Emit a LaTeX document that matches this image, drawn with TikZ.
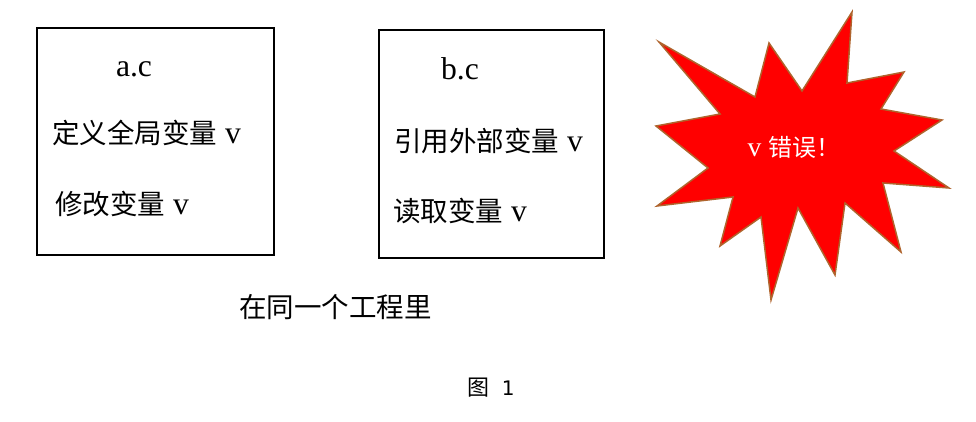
\documentclass[tikz,border=0pt]{standalone}
\usepackage{fontspec}
\setmainfont[Scale=1.15]{Liberation Serif}
\setsansfont{DejaVu Sans}
\newfontfamily\cjk{Noto Sans CJK SC}
\begin{document}
\begin{tikzpicture}[x=1pt,y=-1pt,
  filebox/.style={draw=black,line width=2.2pt},
  txt/.style={inner sep=0pt,anchor=west,font=\fontsize{27.5}{30}\selectfont},
  startxt/.style={inner sep=0pt,text=white,font=\fontsize{24}{27}\selectfont}]
\useasboundingbox (0,0) rectangle (976,422);
% boxes
\draw[filebox] (37,28) rectangle (274,255);
\draw[filebox] (379,30) rectangle (604,258);
\node[txt,anchor=center] (ac) at (134,69) {a.c};
\node[txt] (a1) at (52,133) {{\cjk 定义全局变量} v};
\node[txt] (a2) at (55,204) {{\cjk 修改变量} v};
\node[txt,anchor=center] (bc) at (460,69) {b.c};
\node[txt] (b1) at (394,141) {{\cjk 引用外部变量} v};
\node[txt] (b2) at (393,211) {{\cjk 读取变量} v};
\node[txt] (proj) at (239,307) {\cjk 在同一个工程里};
\node[inner sep=0pt,font=\fontsize{22}{25}\selectfont] (cap) at (491,388) {{\cjk 图}\hspace{0.5em}{\sffamily\fontsize{20}{24}\selectfont 1}};
% star
\draw[fill=red,draw={rgb,255:red,175;green,100;blue,45},line width=1.5pt,line join=miter]
 (852,12) -- (847,83) -- (904,72) -- (881,109) -- (942,120) -- (894,151)
 -- (949,188) -- (883,183) -- (901,252) -- (845,203) -- (835,275) -- (798,208)
 -- (771,300) -- (761,217) -- (720,246) -- (733,197) -- (657,206) -- (708,168)
 -- (656,126) -- (720,114) -- (659,42) -- (755,97) -- (769,43) -- (802,91) -- cycle;
\node[startxt] (err) at (794,147) {v {\cjk 错误！}};
\end{tikzpicture}
\end{document}
